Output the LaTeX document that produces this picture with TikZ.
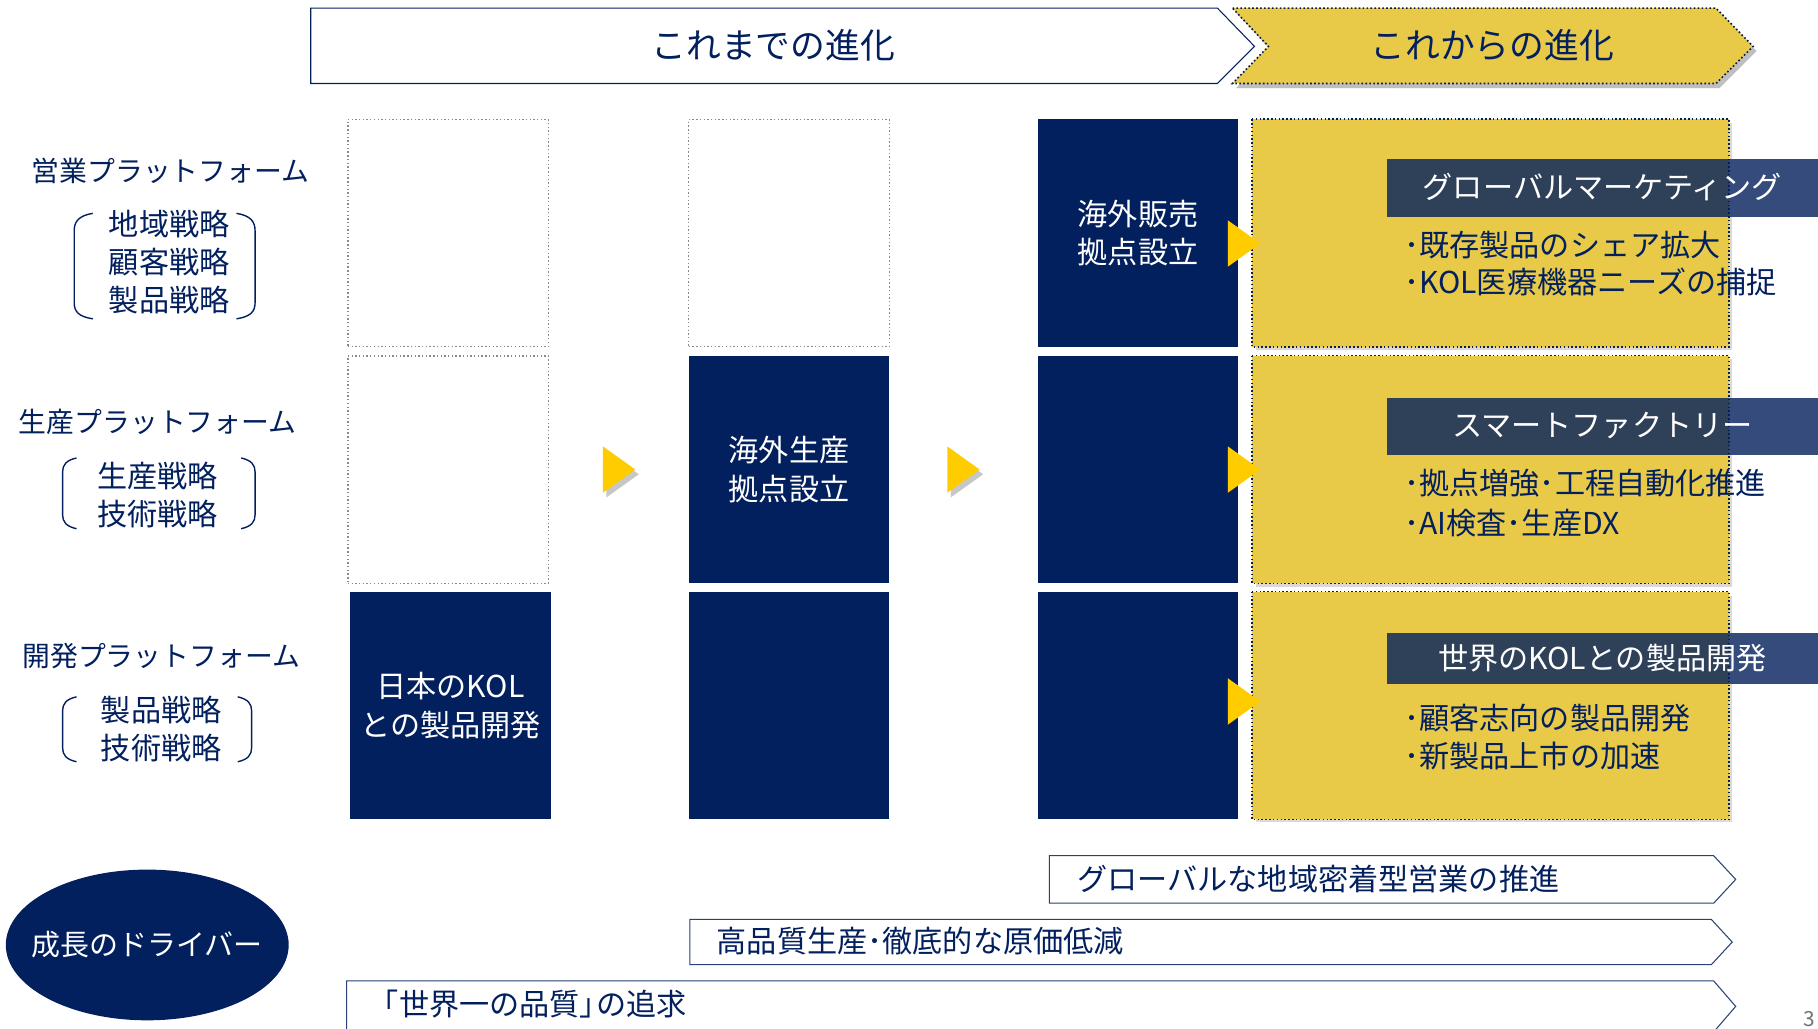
\documentclass[tikz,border=0pt]{standalone}
\usepackage{fontspec}
\setmainfont{Noto Sans CJK JP}
\usetikzlibrary{shapes.geometric}
\definecolor{navy}{HTML}{03205E}
\definecolor{yel}{HTML}{E8CA48}
\definecolor{tri}{HTML}{FFCC00}
\definecolor{bardark}{HTML}{2F4159}
\definecolor{barlight}{HTML}{354B7B}
\definecolor{dotgray}{HTML}{8A8A8A}
\tikzset{
  fs/.style={font=\fontsize{#1pt}{33pt}\selectfont},
  emptybox/.style={draw=dotgray, dotted, line width=1.2pt, fill=white, minimum width=173pt, minimum height=196pt, inner sep=0pt},
  navybox/.style={fill=navy, text=white, minimum width=173pt, minimum height=196pt, inner sep=0pt, align=center, fs=26},
  yelbox/.style={fill=yel, minimum width=411pt, minimum height=196pt, inner sep=0pt},
  yelborder/.style={draw=navy, dotted, line width=1.3pt},
  rowlabel/.style={text=navy, fs=24, inner sep=0pt},
  brtext/.style={text=navy, fs=26, align=center, inner sep=0pt},
  bracket/.style={draw=navy, line width=1.2pt},
  bartext/.style={text=white, fs=26, inner sep=0pt},
  bullet/.style={text=navy, fs=26, inner sep=0pt, anchor=west},
  arrowline/.style={draw=navy!85!white, line width=0.9pt, fill=white},
  arrtext/.style={text=navy, fs=26, inner sep=0pt, anchor=west},
  trishape/.style={fill=tri},
}
\begin{document}
\begin{tikzpicture}[x=1pt,y=-1pt]
\useasboundingbox (0,0) rectangle (1568,887);
\fill[white] (0,0) rectangle (1568,887);

% top banner
\draw[navy, line width=0.9pt, fill=white] (268,7) -- (1050,7) -- (1082,40) -- (1050,72) -- (268,72) -- cycle;
\node[text=navy, fs=30, inner sep=0pt] (past) at (667,39) {これまでの進化};
\fill[black!25] (1066,11) -- (1483,11) -- (1515,44) -- (1483,76) -- (1066,76) -- (1097,44) -- cycle;
\draw[fill=yel, draw=navy!80!black, dotted, line width=1.4pt] (1063,7) -- (1480,7) -- (1512,40) -- (1480,72) -- (1063,72) -- (1094,40) -- cycle;
\node[text=navy, fs=30, inner sep=0pt] (future) at (1287,39) {これからの進化};

% row labels
\node[rowlabel] (l1) at (147,147) {営業プラットフォーム};
\node[brtext] (b1) at (146,226) {地域戦略\\顧客戦略\\製品戦略};
\draw[bracket] (80,184) .. controls (68,186) and (64,191) .. (64,199) -- (64,261) .. controls (64,269) and (68,273) .. (80,275);
\draw[bracket] (204,184) .. controls (216,186) and (220,191) .. (220,199) -- (220,261) .. controls (220,269) and (216,273) .. (204,275);

\node[rowlabel] (l2) at (136,364) {生産プラットフォーム};
\node[brtext] (b2) at (136,427) {生産戦略\\技術戦略};
\draw[bracket] (66,395) .. controls (57,397) and (54,401) .. (54,407) -- (54,444) .. controls (54,450) and (57,454) .. (66,456);
\draw[bracket] (208,395) .. controls (217,397) and (220,401) .. (220,407) -- (220,444) .. controls (220,450) and (217,454) .. (208,456);

\node[rowlabel] (l3) at (139,566) {開発プラットフォーム};
\node[brtext] (b3) at (139,629) {製品戦略\\技術戦略};
\draw[bracket] (66,601) .. controls (57,603) and (54,607) .. (54,613) -- (54,645) .. controls (54,651) and (57,655) .. (66,657);
\draw[bracket] (205,601) .. controls (214,603) and (217,607) .. (217,613) -- (217,645) .. controls (217,651) and (214,655) .. (205,657);

% column 1
\node[emptybox] (c1r1) at (386.5,201) {};
\node[emptybox] (c1r2) at (386.5,405) {};
\node[navybox] (c1r3) at (388.5,608.5) {日本のKOL\\との製品開発};
% column 2
\node[emptybox] (c2r1) at (680.5,201) {};
\node[navybox] (c2r2) at (680.5,405) {海外生産\\拠点設立};
\node[navybox] (c2r3) at (680.5,608.5) {};
% column 3
\node[navybox] (c3r1) at (981.5,201) {海外販売\\拠点設立};
\node[navybox] (c3r2) at (981.5,405) {};
\node[navybox] (c3r3) at (981.5,608.5) {};

% column 4 (yellow)
\fill[black!15] (1083,106) rectangle (1494,302);
\fill[black!15] (1083,310) rectangle (1494,506);
\fill[black!15] (1083,514) rectangle (1494,709);
\node[yelbox] (y1) at (1285.5,201) {};
\node[yelbox] (y2) at (1285.5,405) {};
\node[yelbox] (y3) at (1285.5,608.5) {};

% header bars
\fill[barlight] (1196,137) rectangle (1568,187);
\fill[bardark] (1196,137) rectangle (1491,187);
\fill[barlight] (1196,343) rectangle (1568,392);
\fill[bardark] (1196,343) rectangle (1491,392);
\fill[barlight] (1196,546) rectangle (1568,590);
\fill[bardark] (1196,546) rectangle (1491,590);

\draw[yelborder] (y1.north west) rectangle (y1.south east);
\draw[yelborder] (y2.north west) rectangle (y2.south east);
\draw[yelborder] (y3.north west) rectangle (y3.south east);

\node[bartext] (h1) at (1382,161) {グローバルマーケティング};
\node[bartext] (h2) at (1382,367) {スマートファクトリー};
\node[bartext] (h3) at (1382,568) {世界のKOLとの製品開発};

\node[bullet] (p1a) at (1211,211) {･既存製品のシェア拡大};
\node[bullet] (p1b) at (1211,243) {･KOL医療機器ニーズの捕捉};
\node[bullet] (p2a) at (1211,417) {･拠点増強･工程自動化推進};
\node[bullet] (p2b) at (1211,451) {･AI検査･生産DX};
\node[bullet] (p3a) at (1211,619) {･顧客志向の製品開発};
\node[bullet] (p3b) at (1211,652) {･新製品上市の加速};

% yellow triangles
\fill[black!22] (523,389) -- (551,409) -- (523,429) -- cycle;
\fill[trishape] (520,385) -- (548,405) -- (520,425) -- cycle;
\fill[black!22] (820,389) -- (848,409) -- (820,429) -- cycle;
\fill[trishape] (817,385) -- (845,405) -- (817,425) -- cycle;
\fill[trishape] (1059,190) -- (1087,210) -- (1059,230) -- cycle;
\fill[trishape] (1059,385) -- (1087,405) -- (1059,425) -- cycle;
\fill[trishape] (1059,585) -- (1087,605) -- (1059,625) -- cycle;

% growth drivers
\fill[navy] (127,815) ellipse [x radius=122, y radius=65];
\node[text=white, fs=25, inner sep=0pt] (drv) at (127,815) {成長のドライバー};

\draw[arrowline] (905,738) -- (1478,738) -- (1497,758.5) -- (1478,779) -- (905,779) -- cycle;
\node[arrtext] (d1) at (929,758) {グローバルな地域密着型営業の推進};
\draw[arrowline] (595,793) -- (1476,793) -- (1494,812.5) -- (1476,832) -- (595,832) -- cycle;
\node[arrtext] (d2) at (618,812) {高品質生産･徹底的な原価低減};
\draw[arrowline] (299,846) -- (1478,846) -- (1497,868) -- (1478,890) -- (299,890) -- cycle;
\node[arrtext] (d3) at (318,866) {「世界一の品質」\hspace{-0.45em}の追求};

\node[text=black!55, fs=18, inner sep=0pt, anchor=south east] (pg) at (1566,886) {3};
\end{tikzpicture}
\end{document}
